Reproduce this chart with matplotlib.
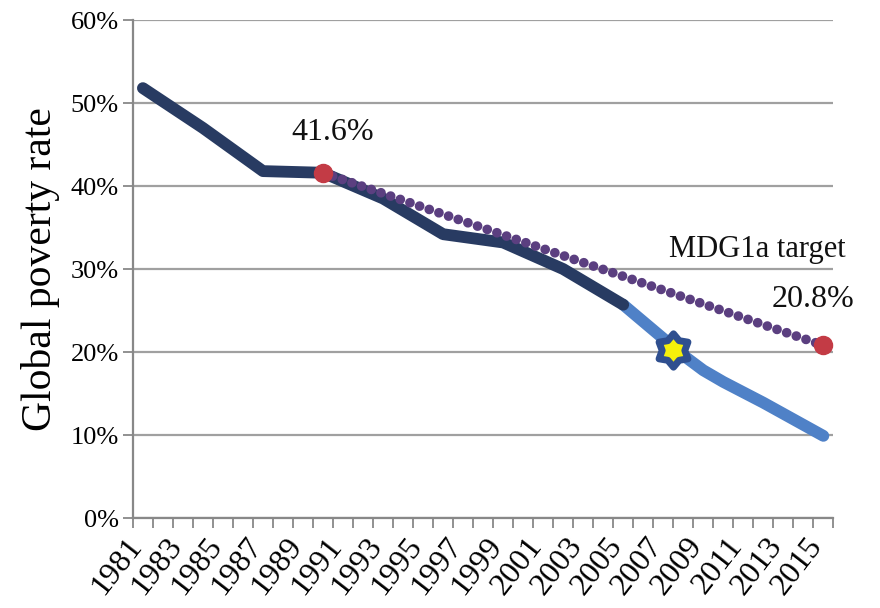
import numpy as np
import matplotlib.pyplot as plt
import matplotlib.transforms as mtransforms
from matplotlib.path import Path
from matplotlib.ticker import FuncFormatter

# data (global poverty rate, %)
hist_years = [1981, 1984, 1987, 1990, 1993, 1996, 1999, 2002, 2005]
hist_rate = [51.8, 47.0, 41.8, 41.6, 38.5, 34.2, 33.2, 30.0, 25.7]

proj_years = [2005, 2008, 2009, 2010, 2012, 2015]
proj_rate = [25.7, 19.6, 17.8, 16.4, 13.9, 9.9]

target_years = [1990, 2015]
target_rate = [41.6, 20.8]

star_year = 2007.5
star_rate = 20.3

tick_years = list(range(1981, 2016, 2))

plt.rcParams['font.family'] = ['Liberation Serif', 'DejaVu Serif']

# chubby six-pointed star marker shape
ang = np.pi / 2 + np.arange(13) * np.pi / 6
rad = np.where(np.arange(13) % 2 == 0, 1.0, 0.68)
star_path = Path(np.column_stack([rad * np.cos(ang), rad * np.sin(ang)]), closed=True)

fig = plt.figure(figsize=(8.8, 6.08), dpi=100)
ax = fig.add_axes([0.151, 0.148, 0.796, 0.819])

# lines
ax.plot(proj_years, proj_rate, color='#4F81C7', lw=8.5, solid_capstyle='round',
        solid_joinstyle='round', zorder=3)
ax.plot(hist_years, hist_rate, color='#283B62', lw=8.5, solid_capstyle='round',
        solid_joinstyle='round', zorder=4)
ax.plot(target_years, target_rate, color='#5B3F80', lw=7,
        linestyle=(0, (0.001, 1.05)), dash_capstyle='round', zorder=5)
ax.plot(target_years, target_rate, 'o', color='#C33B45', ms=13, zorder=6)
ax.plot([star_year], [star_rate], marker=star_path, ms=24, mfc='#F5F00A',
        mec='#2F4F8F', mew=5, zorder=7)

# labels on the chart
ax.text(1990.5, 46.5, '41.6%', fontsize=23, ha='center', va='center', color='#111111')
ax.text(2011.7, 32.3, 'MDG1a target', fontsize=22, ha='center', va='center', color='#111111')
ax.text(2014.5, 26.3, '20.8%', fontsize=23, ha='center', va='center', color='#111111')

# axes
ax.set_xlim(1980.5, 2015.5)
ax.set_ylim(0, 60)
ax.set_yticks(range(0, 61, 10))
ax.yaxis.set_major_formatter(FuncFormatter(lambda v, p: f'{v:.0f}%'))
ax.grid(axis='y', color='#A0A0A0', lw=1.6)
ax.set_axisbelow(True)

ax.set_xticks(tick_years)
ax.set_xticklabels([str(y) for y in tick_years], rotation=52, ha='right',
                   rotation_mode='default')
ax.set_xticks([y - 0.5 for y in range(1981, 2017)], minor=True)
ax.tick_params(axis='x', which='major', length=0, labelsize=23, pad=10)
ax.tick_params(axis='x', which='minor', length=7, width=1.3, color='#888888', direction='out')
ax.tick_params(axis='y', length=7, width=1.3, color='#888888', labelsize=19, pad=3)

shift = mtransforms.ScaledTranslation(5 / 100, 0, fig.dpi_scale_trans)
for lab in ax.get_xticklabels():
    lab.set_transform(lab.get_transform() + shift)

for s in ['top', 'right']:
    ax.spines[s].set_visible(False)
for s in ['left', 'bottom']:
    ax.spines[s].set_color('#888888')
    ax.spines[s].set_linewidth(1.6)

ax.set_ylabel('Global poverty rate', fontsize=30, labelpad=8)

fig.savefig('out.png', dpi=100)
